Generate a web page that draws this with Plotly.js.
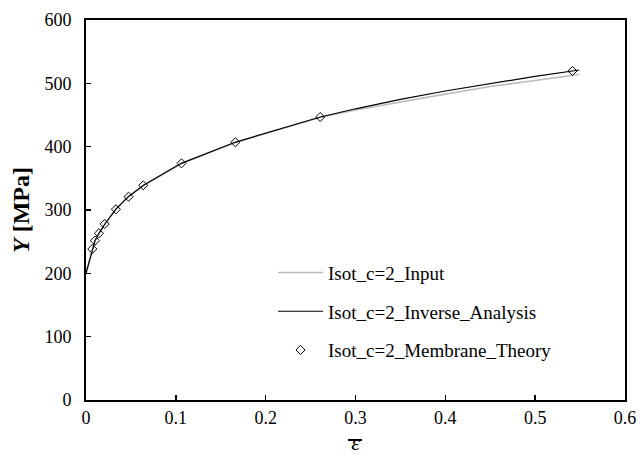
<!DOCTYPE html>
<html>
<head>
<meta charset="utf-8">
<script src="https://cdn.plot.ly/plotly-3.0.1.min.js"></script>
<style>html,body{margin:0;padding:0;background:#fff}#chart{width:640px;height:455px}</style>
</head>
<body>
<div id="chart"></div>
<script>
// Input curve (grey)
var inputStrain = [0, 0.007, 0.010, 0.0144, 0.021, 0.033, 0.047, 0.064, 0.106, 0.166, 0.26, 0.30, 0.35, 0.40, 0.45, 0.50, 0.549];
var inputStress = [200, 238, 251, 263, 277.5, 300.5, 320.5, 338.5, 373, 406.5, 446, 458, 471, 483, 495, 505, 514];
// Inverse analysis curve (black)
var invStrain = [0, 0.007, 0.010, 0.0144, 0.021, 0.033, 0.047, 0.064, 0.106, 0.166, 0.261, 0.30, 0.35, 0.40, 0.45, 0.50, 0.549];
var invStress = [200, 238.4, 251.5, 263.2, 277.9, 301, 321, 339, 373.7, 406.9, 446.8, 459.8, 474.6, 487.9, 499.9, 511, 521];
// Membrane theory points
var memStrain = [0.0070, 0.0100, 0.0144, 0.0208, 0.0333, 0.0474, 0.0637, 0.1063, 0.1663, 0.2607, 0.5415];
var memStress = [238.4, 251.5, 263.2, 277.9, 301.1, 321, 339, 373.7, 406.9, 446.8, 519.5];

var names = ['Isot_c=2_Input', 'Isot_c=2_Inverse_Analysis', 'Isot_c=2_Membrane_Theory'];

var traces = [
  {x: inputStrain, y: inputStress, mode: 'lines', name: names[0], legendgroup: 'a',
   line: {color: '#bdbdbd', width: 1.6}},
  {x: invStrain, y: invStress, mode: 'lines', name: names[1], legendgroup: 'b',
   line: {color: '#000000', width: 1.2}},
  {x: memStrain, y: memStress, mode: 'markers', name: names[2], legendgroup: 'c',
   marker: {symbol: 'diamond-open', size: 7, color: '#000', line: {width: 1, color: '#000'}}}
];

var font = 'Liberation Serif';
var layout = {
  width: 640, height: 455,
  margin: {l: 86, r: 15, t: 20, b: 55},
  paper_bgcolor: '#fff', plot_bgcolor: '#fff',
  font: {family: font, size: 18, color: '#000'},
  showlegend: true,
  legend: {x: 0.347, y: 0.385, xanchor: 'left', yanchor: 'top', bgcolor: 'rgba(0,0,0,0)',
           itemwidth: 45,
           font: {family: font, size: 19, color: '#000'}, tracegroupgap: 11},
  xaxis: {
    range: [0, 0.6], dtick: 0.1, tickformat: '.1~f',
    showline: true, mirror: true, linecolor: '#000', linewidth: 2,
    ticks: 'inside', ticklen: 5, tickwidth: 1.5, tickcolor: '#000',
    showgrid: false, zeroline: false,
    tickfont: {family: font, size: 18},
    title: {text: '<i>ε</i>', font: {family: font, size: 22}, standoff: 11}
  },
  yaxis: {
    range: [0, 600], dtick: 100,
    showline: true, mirror: true, linecolor: '#000', linewidth: 2,
    ticks: 'inside', ticklen: 5, tickwidth: 1.5, tickcolor: '#000',
    ticklabelstandoff: 9,
    showgrid: false, zeroline: false,
    tickfont: {family: font, size: 18},
    title: {text: '<b><i>Y</i> [MPa]</b>', font: {family: font, size: 24}, standoff: 8}
  },
  shapes: [
    {type: 'line', xref: 'paper', yref: 'paper', x0: 0, x1: 0, y0: 0, y1: 0,
     line: {color: '#000', width: 2}}
  ]
};
// overline above the x-axis title (pixel targets converted to paper fractions)
layout.shapes[0].y0 = layout.shapes[0].y1 = (400 - 440) / 380;
layout.shapes[0].x0 = (348 - 86) / 539;
layout.shapes[0].x1 = (362 - 86) / 539;

Plotly.newPlot('chart', traces, layout, {displayModeBar: false, staticPlot: true});
</script>
</body>
</html>
